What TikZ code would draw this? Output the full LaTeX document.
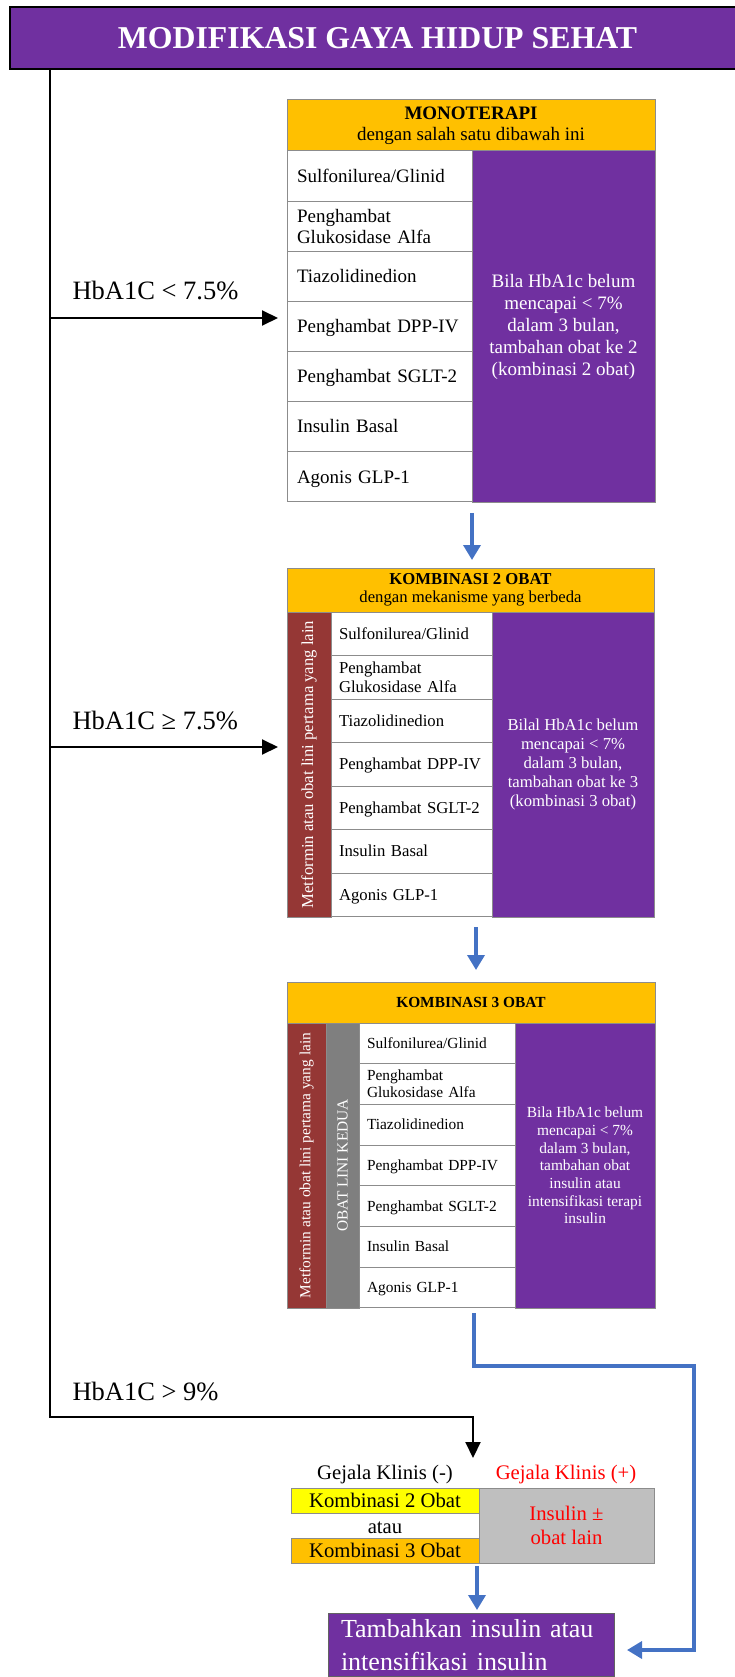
\documentclass[tikz,border=0pt]{standalone}
\usepackage{fontspec}
\setmainfont{Liberation Serif}
\usetikzlibrary{arrows.meta}

\definecolor{ungu}{HTML}{7030A0}
\definecolor{emas}{HTML}{FFC000}
\definecolor{merah}{HTML}{953735}
\definecolor{abu}{HTML}{7F7F7F}
\definecolor{garis}{HTML}{8C8C8C}
\definecolor{biru}{HTML}{4472C4}
\definecolor{abumuda}{HTML}{BFBFBF}
\definecolor{kuning}{HTML}{FFFF00}

% font sizes (1pt = 1 pixel of the drawing)
\newcommand\fsJudul{\fontsize{31.8}{36}\selectfont\bfseries}
\newcommand\fsLabel{\fontsize{26.5}{30}\selectfont}
\newcommand\fsA{\fontsize{19}{21}\selectfont}
\newcommand\fsAp{\fontsize{19}{22}\selectfont}
\newcommand\fsB{\fontsize{16.7}{18.3}\selectfont}
\newcommand\fsBp{\fontsize{16.7}{19}\selectfont}
\newcommand\fsC{\fontsize{15.4}{16.7}\selectfont}
\newcommand\fsCp{\fontsize{15.4}{17.7}\selectfont}
\newcommand\fsD{\fontsize{20.7}{24}\selectfont}
\newcommand\fsE{\fontsize{26}{33}\selectfont}

\tikzset{
  garisgrid/.style={draw=garis, line width=1pt, outer sep=0pt},
  sel/.style={garisgrid, fill=white, anchor=north west, align=left, inner ysep=0pt},
  selA/.style={sel, font=\fsA, text width=165pt, inner xsep=10pt, minimum height=50.14pt},
  selB/.style={sel, font=\fsB, text width=145pt, inner xsep=8pt, minimum height=43.57pt},
  selC/.style={sel, font=\fsC, text width=140pt, inner xsep=8pt, minimum height=40.71pt},
  satuA/.style={text height=15.2pt, text depth=3pt},
  satuB/.style={text height=13.4pt, text depth=2.7pt},
  satuC/.style={text height=12.3pt, text depth=2.5pt},
  kotakungu/.style={garisgrid, fill=ungu, text=white, anchor=north west, align=center, inner sep=0pt},
  kepala/.style={garisgrid, fill=emas, anchor=north west, align=center, inner sep=0pt},
  lajur/.style={garisgrid, anchor=north west, inner sep=0pt},
  tegak/.style={rotate=90, text=white, inner sep=0pt},
  kotakbawah/.style={garisgrid, anchor=north west, inner sep=0pt, font=\fsD},
  panahhitam/.style={line width=2pt, -{Triangle[length=16pt,width=15pt]}},
  panahbiru/.style={draw=biru, line width=3.5pt, -{Triangle[length=15pt,width=17pt]}},
  label/.style={anchor=base west, font=\fsLabel},
}

\begin{document}
\begin{tikzpicture}[x=1pt,y=-1pt]
\useasboundingbox (0,0) rectangle (734,1677);

% title bar
\node[draw=black, line width=1.5pt, outer sep=0pt, fill=ungu, anchor=north west, minimum width=735pt,
      minimum height=62pt, inner sep=0pt, text=white, font=\fsJudul] (judul) at (10,7)
      {MODIFIKASI GAYA HIDUP SEHAT};

% ---- monotherapy table ----
\node[kepala, minimum width=368pt, minimum height=51pt, font=\fsA] (h1) at (287,100)
  {\textbf{MONOTERAPI}\\dengan salah satu dibawah ini};
\node[selA, satuA] (m1) at (h1.south west) {Sulfonilurea/Glinid};
\node[selA] (m2) at (m1.south west) {Penghambat\\Glukosidase Alfa};
\node[selA, satuA] (m3) at (m2.south west) {Tiazolidinedion};
\node[selA, satuA] (m4) at (m3.south west) {Penghambat DPP-IV};
\node[selA, satuA] (m5) at (m4.south west) {Penghambat SGLT-2};
\node[selA, satuA] (m6) at (m5.south west) {Insulin Basal};
\node[selA, satuA] (m7) at (m6.south west) {Agonis GLP-1};
\node[kotakungu, minimum width=183pt, minimum height=351pt, font=\fsAp] (u1) at (m1.north east)
  {Bila HbA1c belum\\mencapai < 7\%\\dalam 3 bulan,\\tambahan obat ke 2\\(kombinasi 2 obat)};

% ---- two-drug combination table ----
\node[kepala, minimum width=367pt, minimum height=44pt, font=\fsB] (h2) at (287,568)
  {\textbf{KOMBINASI 2 OBAT}\\dengan mekanisme yang berbeda};
\node[lajur, fill=merah, minimum width=44pt, minimum height=305pt] (r2) at (h2.south west) {};
\node[tegak, font=\fsB] (r2t) at (r2.center) {Metformin atau obat lini pertama yang lain};
\node[selB, satuB] (k1) at (r2.north east) {Sulfonilurea/Glinid};
\node[selB] (k2) at (k1.south west) {Penghambat\\Glukosidase Alfa};
\node[selB, satuB] (k3) at (k2.south west) {Tiazolidinedion};
\node[selB, satuB] (k4) at (k3.south west) {Penghambat DPP-IV};
\node[selB, satuB] (k5) at (k4.south west) {Penghambat SGLT-2};
\node[selB, satuB] (k6) at (k5.south west) {Insulin Basal};
\node[selB, satuB] (k7) at (k6.south west) {Agonis GLP-1};
\node[kotakungu, minimum width=162pt, minimum height=305pt, font=\fsBp] (u2) at (k1.north east)
  {Bilal HbA1c belum\\mencapai < 7\%\\dalam 3 bulan,\\tambahan obat ke 3\\(kombinasi 3 obat)};

% ---- three-drug combination table ----
\node[kepala, minimum width=368pt, minimum height=41pt, font=\fsC] (h3) at (287,982)
  {\textbf{KOMBINASI 3 OBAT}};
\node[lajur, fill=merah, minimum width=39pt, minimum height=285pt] (r3) at (h3.south west) {};
\node[tegak, font=\fsC] (r3t) at (r3.center) {Metformin atau obat lini pertama yang lain};
\node[lajur, fill=abu, minimum width=33pt, minimum height=285pt] (g3) at (r3.north east) {};
\node[tegak, font=\fsC] (g3t) at (g3.center) {OBAT LINI KEDUA};
\node[selC, satuC] (t1) at (g3.north east) {Sulfonilurea/Glinid};
\node[selC] (t2) at (t1.south west) {Penghambat\\Glukosidase Alfa};
\node[selC, satuC] (t3) at (t2.south west) {Tiazolidinedion};
\node[selC, satuC] (t4) at (t3.south west) {Penghambat DPP-IV};
\node[selC, satuC] (t5) at (t4.south west) {Penghambat SGLT-2};
\node[selC, satuC] (t6) at (t5.south west) {Insulin Basal};
\node[selC, satuC] (t7) at (t6.south west) {Agonis GLP-1};
\node[kotakungu, minimum width=140pt, minimum height=285pt, font=\fsCp] (u3) at (t1.north east)
  {Bila HbA1c belum\\mencapai < 7\%\\dalam 3 bulan,\\tambahan obat\\insulin atau\\intensifikasi terapi\\insulin};

% ---- HbA1c > 9% branch ----
\node[anchor=base, font=\fsD] (gneg) at (385,1479) {Gejala Klinis (-)};
\node[anchor=base, font=\fsD, text=red] (gpos) at (566,1479) {Gejala Klinis (+)};
\node[kotakbawah, fill=kuning, minimum width=188pt, minimum height=25pt,
      text height=16.6pt, text depth=1.7pt] (k2o) at (291,1488) {Kombinasi 2 Obat};
\node[anchor=base, font=\fsD] (atau) at (385,1533) {atau};
\node[kotakbawah, fill=emas, minimum width=188pt, minimum height=25pt,
      text height=16.6pt, text depth=1.7pt] (k3o) at (291,1538) {Kombinasi 3 Obat};
\node[kotakbawah, fill=abumuda, minimum width=175pt, minimum height=75pt, align=center,
      text=red] (ins) at (k2o.north east) {Insulin ±\\obat lain};

% final step
\node[draw=garis!70!black, line width=1pt, outer sep=0pt, fill=ungu, text=white, anchor=north west,
      align=left, text width=260pt, inner xsep=13pt, inner ysep=6pt, font=\fsE] (akhir) at (328,1613)
  {Tambahkan insulin atau\\intensifikasi insulin};

% ---- black decision lines ----
\coordinate (akar) at (50,69);
\coordinate (cab1) at (50,318);
\coordinate (cab2) at (50,747);
\coordinate (belok) at (50,1417);
\coordinate (turun) at (473,1458);
\draw[panahhitam] (akar) -- (belok) -| (turun);
\draw[panahhitam, shorten >=9pt] (cab1) -- (cab1 -| m1.west);
\draw[panahhitam, shorten >=9pt] (cab2) -- (cab2 -| r2.west);
\node[label] (l1) at (69,300) {HbA1C < 7.5\%};
\node[label] (l2) at (69,729) {HbA1C ≥ 7.5\%};
\node[label] (l3) at (69,1400) {HbA1C > 9\%};

% ---- blue escalation arrows ----
\draw[panahbiru, shorten <=11pt, shorten >=8pt] (m7.south east) -- (m7.south east |- h2.north);
\coordinate (a2) at (476,917);
\draw[panahbiru, shorten <=10pt, shorten >=12pt] (a2) -- (a2 |- h3.north);
\coordinate (b3) at (474,1308);
\coordinate (sudut) at (694,1366);
\coordinate (bawah) at (694,1650);
\draw[panahbiru, shorten <=5pt, shorten >=13pt] (b3) |- (sudut) -- (bawah) -- (bawah -| akhir.east);
\draw[panahbiru, shorten <=3pt, shorten >=3pt] ([xshift=-2pt]k3o.south east) -- ([xshift=-2pt]k3o.south east |- akhir.north);
\end{tikzpicture}
\end{document}
